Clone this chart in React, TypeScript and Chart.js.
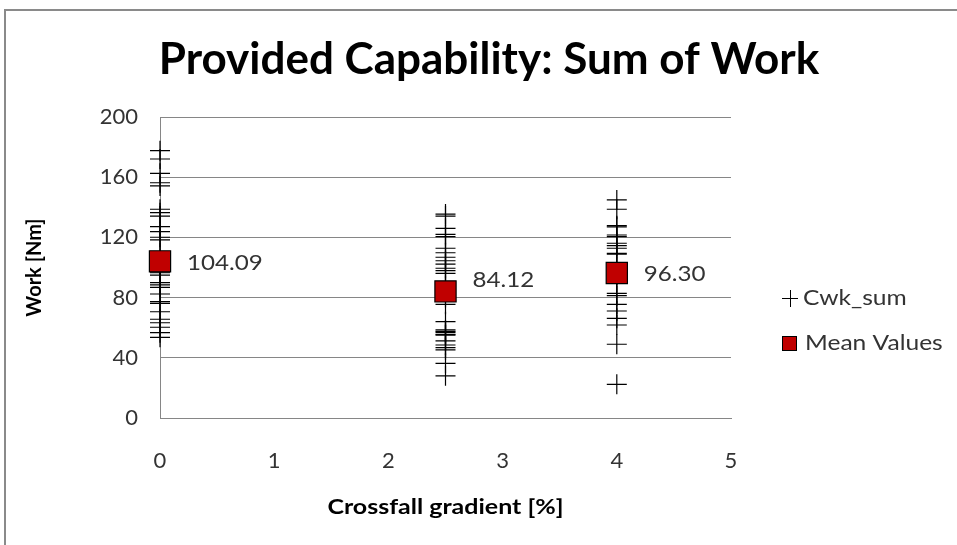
import React, { useEffect, useRef } from "react";
import { Chart, registerables } from "chart.js";

Chart.register(...registerables);

const chartTitle = "Provided Capability: Sum of Work";
const xAxisTitle = "Crossfall gradient [%]";
const yAxisTitle = "Work [Nm]";
const seriesNames = ["Cwk_sum", "Mean Values"];

const gradients = [0, 2.5, 4];
const cwkAt0 = [177.6, 172.1, 162.6, 156.3, 154.2, 138.7, 136.4, 134.2, 127.1, 123.8, 120.1, 118.3, 110, 105, 101, 97.2, 96.5, 95, 89.9, 88.4, 86.8, 82.4, 77.3, 76.2, 70.6, 65.6, 63.3, 60.3, 56.7, 53.6];
const cwkAt25 = [135.5, 134.2, 126, 122, 120.5, 112.8, 109.8, 106.8, 104.5, 102.3, 99.5, 97.9, 96.1, 88, 84, 80, 75.5, 64, 58.5, 57.5, 56.9, 55.5, 55.1, 51.2, 48.5, 46.7, 45.2, 36.3, 28];
const cwkAt4 = [144.9, 138.7, 127.8, 127, 121.6, 120.5, 116.1, 114.5, 112.8, 109.4, 108.8, 100, 95, 90, 82.8, 81.3, 75.5, 71.1, 66.2, 61.8, 49, 22.4];
const meanValues = [104.09, 84.12, 96.3];

const xMin = 0;
const xMax = 5;
const xStep = 1;
const yMin = 0;
const yMax = 200;
const yStep = 40;

const FONT = "Lato, 'Open Sans', sans-serif";

function stretchedText(ctx: CanvasRenderingContext2D, text: string, x: number, y: number, font: string, sx: number, align: CanvasTextAlign) {
  ctx.save();
  ctx.font = font;
  ctx.textAlign = align;
  ctx.textBaseline = "middle";
  ctx.translate(x, y);
  ctx.scale(sx, 1);
  ctx.fillText(text, 0, 0);
  ctx.restore();
}

export default function App() {
  const ref = useRef<HTMLCanvasElement | null>(null);

  useEffect(() => {
    if (!ref.current) return;
    const cwkGroups = [cwkAt0, cwkAt25, cwkAt4];
    const cwkData: { x: number; y: number }[] = [];
    cwkGroups.forEach((g, i) => g.forEach((v) => cwkData.push({ x: gradients[i], y: v })));
    const meanData = meanValues.map((v, i) => ({ x: gradients[i], y: v }));
    const labelDy = [2, -11, 1];

    const overlay = {
      id: "overlay",
      afterDraw(chart: any) {
        const ctx: CanvasRenderingContext2D = chart.ctx;
        const area = chart.chartArea;
        ctx.save();
        // title
        ctx.fillStyle = "#000";
        stretchedText(ctx, chartTitle, 489, 60, `bold 44px ${FONT}`, 1, "center");

        // x axis title
        stretchedText(ctx, xAxisTitle, (area.left + area.right) / 2, 507, `bold 21px ${FONT}`, 1.19, "center");

        // data labels
        const meta = chart.getDatasetMeta(0);
        ctx.fillStyle = "#333";
        meta.data.forEach((pt: any, i: number) => {
          stretchedText(ctx, meanValues[i].toFixed(2), pt.x + 27, pt.y + labelDy[i], `21px ${FONT}`, 1.15, "left");
        });

        // legend
        ctx.strokeStyle = "#000";
        ctx.lineWidth = 1;
        ctx.beginPath();
        ctx.moveTo(782, 298.5);
        ctx.lineTo(798, 298.5);
        ctx.moveTo(790.5, 290);
        ctx.lineTo(790.5, 307);
        ctx.stroke();
        ctx.fillStyle = "#c00000";
        ctx.fillRect(782, 336, 14, 14);
        ctx.strokeRect(782.5, 336.5, 14, 14);
        ctx.fillStyle = "#333";
        stretchedText(ctx, seriesNames[0], 803, 298, `21px ${FONT}`, 1.17, "left");
        stretchedText(ctx, seriesNames[1], 805, 343, `21px ${FONT}`, 1.17, "left");
        ctx.restore();
      },
    };

    const chart = new Chart(ref.current, {
      type: "scatter",
      data: {
        datasets: [
          {
            label: seriesNames[1],
            data: meanData,
            pointStyle: "rect",
            pointRadius: 15,
            pointHoverRadius: 15,
            backgroundColor: "#c00000",
            borderColor: "#000",
            borderWidth: 1.2,
            clip: false,
          },
          {
            label: seriesNames[0],
            data: cwkData,
            pointStyle: "cross",
            pointRadius: 10,
            pointHoverRadius: 10,
            borderColor: "#000",
            backgroundColor: "#000",
            borderWidth: 1.2,
            clip: false,
          },
        ],
      },
      options: {
        responsive: false,
        animation: false,
        layout: { padding: { top: 117, right: 226, left: 0, bottom: 0 } },
        plugins: {
          legend: { display: false },
          title: { display: false },
          tooltip: { enabled: false },
        },
        scales: {
          x: {
            type: "linear",
            min: xMin,
            max: xMax,
            ticks: {
              stepSize: xStep,
              padding: 30,
              color: "#333",
              font: { family: FONT, size: 22 },
            },
            grid: { display: false, drawTicks: false },
            border: { display: true, color: "#868686", width: 1 },
            title: { display: false },
            afterFit: (s: any) => {
              s.height = 127;
            },
          },
          y: {
            type: "linear",
            min: yMin,
            max: yMax,
            ticks: {
              stepSize: yStep,
              padding: 22,
              color: "#333",
              font: { family: FONT, size: 22 },
            },
            grid: { color: "#868686", drawTicks: false, lineWidth: 1 },
            border: { display: true, color: "#868686", width: 1 },
            title: {
              display: true,
              text: yAxisTitle,
              color: "#000",
              font: { family: FONT, size: 20, weight: "bold" },
              padding: { top: 23, bottom: 0 },
            },
            afterFit: (s: any) => {
              s.width = 160;
            },
          },
        },
      },
      plugins: [overlay],
    });
    return () => chart.destroy();
  }, []);

  return (
    <div style={{ position: "fixed", left: 0, top: 0, width: 957, height: 545, overflow: "hidden", background: "#fff" }}>
      <div
        style={{
          position: "absolute",
          left: 4,
          top: 9,
          width: 1000,
          height: 600,
          borderLeft: "2px solid #8a8a8a",
          borderTop: "2px solid #8a8a8a",
        }}
      />
      <canvas ref={ref} width={957} height={545} style={{ position: "absolute", left: 0, top: 0, display: "block" }} />
    </div>
  );
}
